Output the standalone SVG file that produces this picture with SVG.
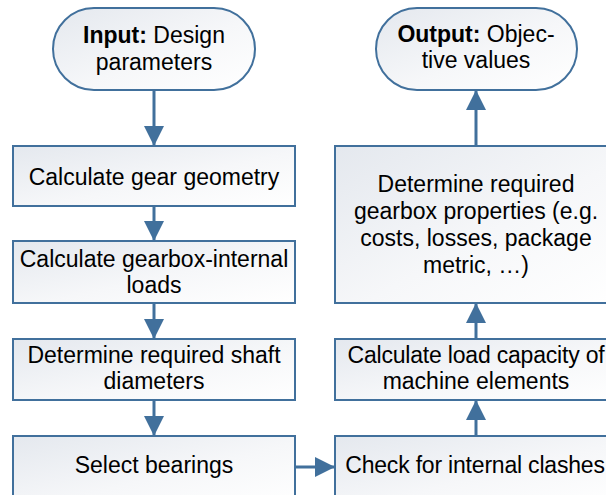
<svg xmlns="http://www.w3.org/2000/svg" width="606" height="495" viewBox="0 0 606 495">
  <defs>
    <linearGradient id="fillGrad" x1="0" y1="0" x2="1" y2="1">
      <stop offset="0" stop-color="#e4e8ee"/>
      <stop offset="0.55" stop-color="#f6f7f9"/>
      <stop offset="1" stop-color="#ffffff"/>
    </linearGradient>
    <marker id="arrow" viewBox="0 0 20 20" refX="20" refY="10" markerWidth="20" markerHeight="20" markerUnits="userSpaceOnUse" orient="auto">
      <path d="M0,0 L20,10 L0,20 Z" fill="#41709c"/>
    </marker>
    <style>
      .box { fill: url(#fillGrad); stroke: #41709c; stroke-width: 2; }
      .conn { stroke: #41709c; stroke-width: 3; fill: none; marker-end: url(#arrow); }
      text { font-family: "Liberation Sans", Arial, sans-serif; font-size: 23px; fill: #000; text-anchor: middle; }
      .b { font-weight: bold; }
      .tight { letter-spacing: -0.2px; }
    </style>
  </defs>

  <!-- connectors -->
  <g id="connectors">
    <path class="conn" d="M154,90 L154,146"/>
    <path class="conn" d="M154,206 L154,241"/>
    <path class="conn" d="M154,303 L154,339"/>
    <path class="conn" d="M154,400 L154,436"/>
    <path class="conn" d="M295,467 L335,467"/>
    <path class="conn" d="M476,436 L476,400"/>
    <path class="conn" d="M476,339 L476,303"/>
    <path class="conn" d="M476,146 L476,90"/>
  </g>

  <!-- input terminal -->
  <g id="input">
    <rect class="box" x="53" y="8" width="202" height="82" rx="41" ry="41"/>
    <text x="154" y="43"><tspan class="b">Input:</tspan> Design</text>
    <text x="154" y="70">parameters</text>
  </g>

  <g id="gear-geometry">
    <rect class="box" x="13" y="146" width="282" height="60"/>
    <text x="154" y="185">Calculate gear geometry</text>
  </g>

  <g id="internal-loads">
    <rect class="box" x="13" y="241" width="282" height="62"/>
    <text x="154" y="267">Calculate gearbox-internal</text>
    <text x="154" y="293">loads</text>
  </g>

  <g id="shaft-diameters">
    <rect class="box" x="13" y="339" width="282" height="61"/>
    <text x="154" y="363">Determine required shaft</text>
    <text x="154" y="389">diameters</text>
  </g>

  <g id="bearings">
    <rect class="box" x="13" y="436" width="282" height="70"/>
    <text x="154" y="473">Select bearings</text>
  </g>

  <!-- output terminal -->
  <g id="output">
    <rect class="box" x="376" y="8" width="201" height="82" rx="41" ry="41"/>
    <text x="476" y="42"><tspan class="b">Output:</tspan> Objec-</text>
    <text x="476" y="68">tive values</text>
  </g>

  <g id="gearbox-properties">
    <rect class="box" x="335" y="146" width="282" height="157"/>
    <text x="476" y="192">Determine required</text>
    <text x="476" y="219">gearbox properties (e.g.</text>
    <text x="476" y="246">costs, losses, package</text>
    <text x="476" y="273">metric, …)</text>
  </g>

  <g id="load-capacity">
    <rect class="box" x="335" y="339" width="282" height="61"/>
    <text class="tight" x="476" y="363">Calculate load capacity of</text>
    <text x="476" y="389">machine elements</text>
  </g>

  <g id="clashes">
    <rect class="box" x="335" y="436" width="282" height="70"/>
    <text class="tight" x="475" y="473">Check for internal clashes</text>
  </g>
</svg>
